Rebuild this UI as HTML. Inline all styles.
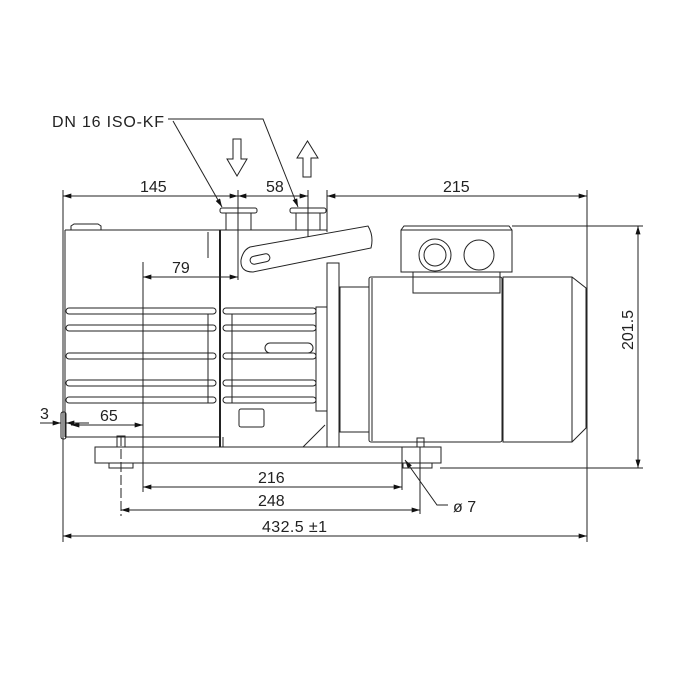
<!DOCTYPE html>
<html><head><meta charset="utf-8"><style>
html,body{margin:0;padding:0;background:#fff;width:700px;height:700px;overflow:hidden}
text{font-family:"Liberation Sans",sans-serif;font-size:16px;fill:#222}
</style></head><body>
<svg width="700" height="700" viewBox="0 0 700 700" xmlns="http://www.w3.org/2000/svg">
<defs>
<marker id="a" viewBox="0 0 10 6" refX="10" refY="3" markerWidth="11" markerHeight="5" orient="auto-start-reverse" markerUnits="userSpaceOnUse"><path d="M0,0 L10,3 L0,6 z" fill="#111"/></marker>
</defs>
<g fill="none" stroke="#222" stroke-width="1">
<line x1="63" y1="190" x2="63" y2="542"/>
<line x1="238" y1="190" x2="238" y2="280"/>
<line x1="308" y1="190" x2="308" y2="240"/>
<line x1="327" y1="190" x2="327" y2="232"/>
<line x1="587" y1="190" x2="587" y2="542"/>
<line x1="143" y1="262" x2="143" y2="492"/>
<line x1="121" y1="436" x2="121" y2="516" stroke-dasharray="10,3"/>
<line x1="402" y1="447" x2="402" y2="490"/>
<line x1="420" y1="447" x2="420" y2="514"/>
<line x1="512" y1="226" x2="643" y2="226"/>
<line x1="440" y1="468" x2="643" y2="468"/>
<line x1="63" y1="196" x2="238" y2="196" marker-start="url(#a)" marker-end="url(#a)"/>
<line x1="238" y1="196" x2="308" y2="196" marker-start="url(#a)" marker-end="url(#a)"/>
<line x1="327" y1="196" x2="587" y2="196" marker-start="url(#a)" marker-end="url(#a)"/>
<line x1="143" y1="277" x2="238" y2="277" marker-start="url(#a)" marker-end="url(#a)"/>
<line x1="71" y1="425" x2="143" y2="425" marker-start="url(#a)" marker-end="url(#a)"/>
<line x1="40" y1="423" x2="61" y2="423" marker-end="url(#a)"/>
<line x1="89" y1="423" x2="66" y2="423" marker-end="url(#a)"/>
<line x1="143" y1="487" x2="402" y2="487" marker-start="url(#a)" marker-end="url(#a)"/>
<line x1="121" y1="510" x2="420" y2="510" marker-start="url(#a)" marker-end="url(#a)"/>
<line x1="63" y1="536" x2="587" y2="536" marker-start="url(#a)" marker-end="url(#a)"/>
<line x1="638" y1="226" x2="638" y2="468" marker-start="url(#a)" marker-end="url(#a)"/>
<polyline points="168,119 263,119 298,207" marker-end="url(#a)"/>
<line x1="173" y1="121" x2="222" y2="207" marker-end="url(#a)"/>
<polyline points="405,460 437,505 448,505" marker-start="url(#a)"/>
<path d="M233,139 H241 V159 H247 L237,176 L227,159 H233 Z"/>
<path d="M303,177 H311 V158 H318 L307.5,141 L297,158 H303 Z"/>
<rect x="220" y="208" width="37" height="5" rx="2"/>
<rect x="226" y="213" width="25" height="17"/>
<rect x="290" y="208" width="36" height="5" rx="2"/>
<rect x="296" y="213" width="24" height="17"/>
<line x1="65" y1="230" x2="327" y2="230"/>
<path d="M71,230 V226 L74,224 H98 L101,226 V230"/>
<line x1="65" y1="230" x2="65" y2="437"/>
<line x1="65" y1="437" x2="220" y2="437"/>
<line x1="208" y1="232" x2="208" y2="258"/>
<line x1="220" y1="230" x2="220" y2="447" stroke-width="2"/>
<line x1="223" y1="437" x2="223" y2="447"/>
<line x1="223" y1="447" x2="327" y2="447"/>
<line x1="303" y1="447" x2="325" y2="425"/>
<rect x="239" y="409" width="25" height="18" rx="2"/>
<rect x="265" y="343" width="48" height="10" rx="5"/>
<rect x="316" y="307" width="11" height="104"/>
<g>
<rect x="66" y="308" width="150" height="6" rx="3"/>
<rect x="66" y="325" width="150" height="6" rx="3"/>
<rect x="66" y="353" width="150" height="6" rx="3"/>
<rect x="66" y="380" width="150" height="6" rx="3"/>
<rect x="66" y="397" width="150" height="6" rx="3"/>
<rect x="223" y="308" width="93" height="6" rx="3"/>
<rect x="223" y="325" width="93" height="6" rx="3"/>
<rect x="223" y="353" width="93" height="6" rx="3"/>
<rect x="223" y="380" width="93" height="6" rx="3"/>
<rect x="223" y="397" width="93" height="6" rx="3"/>
</g>
<line x1="208" y1="314" x2="208" y2="403"/>
<line x1="232" y1="314" x2="232" y2="403"/>
<path d="M250,247 L368,226 Q374,236 371,248 L253,272 Q240,272 241,260 Q243,250 250,247 Z" fill="#fff"/>
<rect x="250" y="255" width="20" height="8" rx="4" transform="rotate(-12 260 259)"/>
<rect x="61" y="412" width="5" height="27" rx="2"/>
<rect x="327" y="263" width="12" height="184"/>
<rect x="340" y="287" width="29" height="145"/>
<rect x="95" y="447" width="346" height="16"/>
<rect x="109" y="463" width="24" height="5"/>
<rect x="403" y="463" width="29" height="5"/>
<rect x="117" y="436" width="8" height="11"/>
<rect x="417" y="438" width="7" height="9"/>
<rect x="369" y="277" width="133" height="165" rx="2"/>
<line x1="372" y1="278" x2="372" y2="441"/>
<path d="M503,277 H572 L586,288 V428 L572,442 H503 Z"/>
<line x1="572" y1="277" x2="572" y2="442"/>
<rect x="413" y="272" width="87" height="21"/>
<path d="M401,272 V230 L404,226 H509 L512,230 V272 Z" fill="#fff"/>
<line x1="401" y1="230" x2="512" y2="230"/>
<circle cx="435" cy="255" r="16"/>
<circle cx="435" cy="255" r="11"/>
<circle cx="479" cy="255" r="15"/>
</g>
<text x="52" y="127" textLength="112">DN 16 ISO-KF</text>
<text x="140" y="192">145</text>
<text x="266" y="192">58</text>
<text x="443" y="192">215</text>
<text x="172" y="273">79</text>
<text x="100" y="421">65</text>
<text x="40" y="419">3</text>
<text x="258" y="483">216</text>
<text x="258" y="506">248</text>
<text x="262" y="532" textLength="65">432.5 ±1</text>
<text x="453" y="512">ø 7</text>
<text transform="translate(633,350) rotate(-90)">201.5</text>
</svg>
</body></html>
